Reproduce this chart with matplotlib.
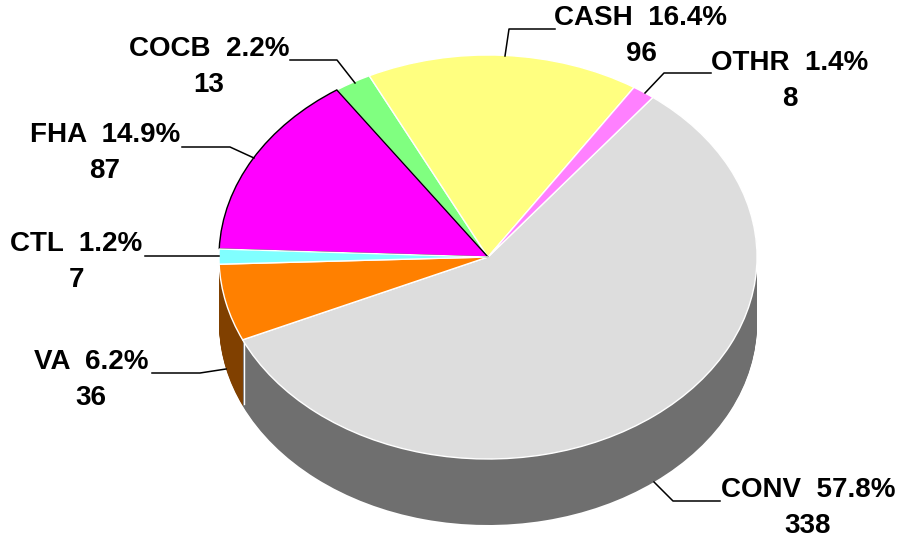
import matplotlib
matplotlib.use("Agg")
import matplotlib.pyplot as plt
from matplotlib.lines import Line2D

plt.rcParams['font.family'] = ['Liberation Sans', 'DejaVu Sans']

# data, clockwise from the OTHR/CONV boundary
names = ["CONV", "VA", "CTL", "FHA", "COCB", "CASH", "OTHR"]
counts = [338, 36, 7, 87, 13, 96, 8]

top_colors = ["#DDDDDD", "#FF8000", "#80FFFF", "#FF00FF", "#80FF80", "#FFFF80", "#FF80FF"]
side_colors = ["#6F6F6F", "#804000", "#408080", "#800080", "#408040", "#808040", "#804080"]

# layout in pixels of the 899x537 picture
W, H = 899, 537
CX, CY, RX, RY = 488, 257, 269, 202
DEPTH = 66
START = 52.2
label_pos = [(808, 508), (91, 380), (76, 262), (105, 153), (209, 67), (641, 36), (790, 81)]
leaders = [
    [(654, 482), (673, 501), (720, 501)],
    [(226, 369), (200, 373), (152, 373)],
    [(219, 256), (145, 256)],
    [(254, 158), (230, 147), (182, 147)],
    [(355, 83), (337, 60), (290, 60)],
    [(505, 56), (509, 29), (555, 29)],
    [(645, 93), (664, 73), (711, 73)],
]

fig = plt.figure(figsize=(W / 100, H / 100), dpi=100)
ax = fig.add_axes([0, 0, 1, 1])

# the side wall: the same pie stacked from the bottom up, no edges
for k in range(DEPTH, 0, -1):
    ax.pie(counts, colors=side_colors, startangle=START, counterclock=False,
           center=(0, -k / RY), wedgeprops={"linewidth": 0})

# the top of the pie
wedges, _ = ax.pie(counts, colors=top_colors, startangle=START, counterclock=False,
                   wedgeprops={"edgecolor": "white", "linewidth": 1})
for w in wedges:
    w.set_zorder(3)
# FHA has a black outline, CTL sits over its lower edge
wedges[3].set_edgecolor("black")
wedges[3].set_zorder(4)
wedges[2].set_zorder(5)

# white seam on the side between CONV and VA
ax.plot([(244 - CX) / RX] * 2, [(CY - 338) / RY, (CY - 338 - DEPTH) / RY],
        color="white", lw=1, zorder=2.5)

ax.set_aspect("auto")
ax.set_xlim(-CX / RX, (W - CX) / RX)
ax.set_ylim((CY - H) / RY, CY / RY)
ax.set_axis_off()

total = sum(counts)
for name, n, (x, y), pts in zip(names, counts, label_pos, leaders):
    fig.text(x / W, 1 - y / H, f"{name}  {100 * n / total:.1f}%\n{n}",
             ha="center", va="center", fontsize=20, fontweight="bold",
             color="black", linespacing=1.46)
    fig.add_artist(Line2D([p[0] / W for p in pts], [1 - p[1] / H for p in pts],
                          color="black", lw=1.1))

fig.savefig("out.png", dpi=100)
